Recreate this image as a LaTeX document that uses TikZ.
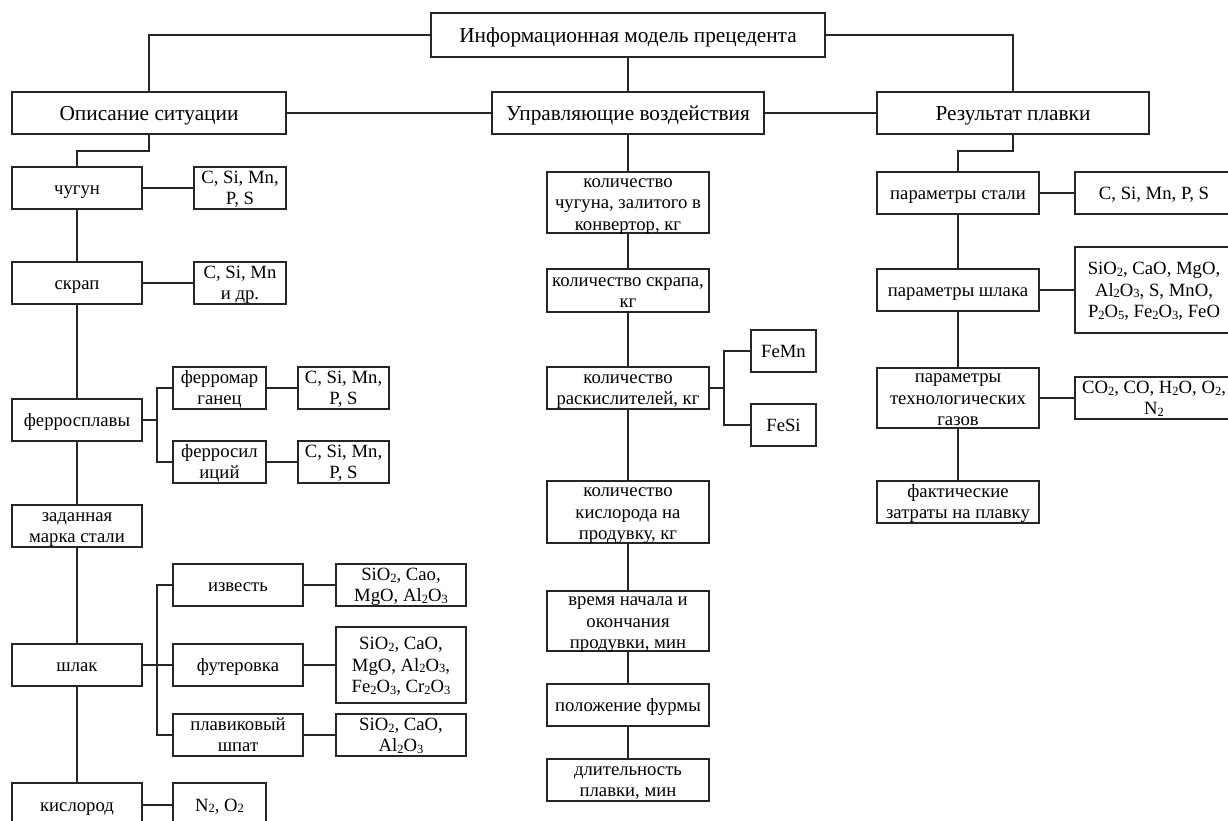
\documentclass[tikz,border=0pt]{standalone}
\usepackage{fontspec}
\setmainfont{Liberation Serif}
\newcommand\sub[1]{\raisebox{-1.6pt}{\fontsize{12.5}{12.5}\selectfont #1}}
\newcommand\bx[7][]{\node[box,#1, minimum width={(#5-#3)*1pt}, minimum height={(#6-#4)*1pt}] (#2) at ({(#3+#5)/2},{(#4+#6)/2}) {\rule{0pt}{0.89em}#7\rule[-0.22em]{0pt}{0.22em}};}
\begin{document}
\begin{tikzpicture}[x=1pt,y=-1pt,
  box/.style={draw=black!85, line width=1.2pt, inner xsep=0pt, inner ysep=-5pt, outer sep=0pt, align=center,
    font=\fontsize{18.7}{21.3}\selectfont},
  hd/.style={font=\fontsize{21.3}{24.5}\selectfont},
  ln/.style={draw=black!85, line width=1.2pt}]
\useasboundingbox (0,0) rectangle (1228,821);
\clip (0,0) rectangle (1228,821);
% top level
\bx[hd]{top}{431}{13}{825}{57}{Информационная модель прецедента}
\bx[hd]{op}{12}{92}{286}{134}{Описание ситуации}
\bx[hd]{upr}{492}{92}{764}{134}{Управляющие воздействия}
\bx[hd]{res}{877}{92}{1149}{134}{Результат плавки}
% left column
\bx{chug}{12}{167}{142}{209}{чугун}
\bx{chugC}{194}{167}{286}{209}{C, Si, Mn,\\ P, S}
\bx{skr}{12}{262}{142}{304}{скрап}
\bx{skrC}{194}{262}{286}{304}{C, Si, Mn\\ и др.}
\bx{ferro}{12}{399}{142}{441}{ферросплавы}
\bx{fm}{173}{367}{266}{409}{ферромар\\ ганец}
\bx{fmC}{298}{367}{389}{409}{C, Si, Mn,\\ P, S}
\bx{fs}{173}{441}{266}{483}{ферросил\\ иций}
\bx{fsC}{298}{441}{389}{483}{C, Si, Mn,\\ P, S}
\bx{mark}{12}{505}{142}{547}{заданная\\ марка стали}
\bx{shl}{12}{644}{142}{686}{шлак}
\bx{izv}{173}{564}{303}{606}{известь}
\bx{izvC}{336}{564}{466}{606}{SiO\sub2, Cao,\\ MgO, Al\sub2O\sub3}
\bx{fut}{173}{644}{303}{686}{футеровка}
\bx{futC}{336}{627}{466}{703}{SiO\sub2, CaO,\\ MgO, Al\sub2O\sub3,\\ Fe\sub2O\sub3, Cr\sub2O\sub3}
\bx{plav}{173}{714}{303}{756}{плавиковый\\ шпат}
\bx{plavC}{336}{714}{466}{756}{SiO\sub2, CaO,\\ Al\sub2O\sub3}
\bx{kis}{12}{783}{142}{827}{кислород}
\bx{kisC}{173}{783}{266}{827}{N\sub2, O\sub2}
% middle column
\bx{m1}{547}{172}{709}{233}{количество\\ чугуна, залитого в\\ конвертор, кг}
\bx{m2}{547}{269}{709}{312}{количество скрапа,\\ кг}
\bx{m3}{547}{367}{709}{409}{количество\\ раскислителей, кг}
\bx{femn}{751}{330}{816}{372}{FeMn}
\bx{fesi}{751}{404}{816}{446}{FeSi}
\bx{m4}{547}{481}{709}{543}{количество\\ кислорода на\\ продувку, кг}
\bx{m5}{547}{591}{709}{651}{время начала и\\ окончания\\ продувки, мин}
\bx{m6}{547}{684}{709}{726}{положение фурмы}
\bx{m7}{547}{759}{709}{801}{длительность\\ плавки, мин}
% right column
\bx{pst}{877}{172}{1039}{214}{параметры стали}
\bx{pstC}{1075}{172}{1233}{214}{C, Si, Mn, P, S}
\bx{psh}{877}{269}{1039}{311}{параметры шлака}
\bx{pshC}{1075}{247}{1233}{333}{SiO\sub2, CaO, MgO,\\ Al\sub2O\sub3, S, MnO,\\ P\sub2O\sub5, Fe\sub2O\sub3, FeO}
\bx{pg}{877}{368}{1039}{428}{параметры\\ технологических\\ газов}
\bx{pgC}{1075}{377}{1233}{419}{CO\sub2, CO, H\sub2O, O\sub2,\\ N\sub2}
\bx{pf}{877}{481}{1039}{523}{фактические\\ затраты на плавку}
% connectors
\draw[ln] (top.west) -| (op.north);
\draw[ln] (top.east) -| (res.north);
\draw[ln] (top.south) -- (upr.north);
\draw[ln] (op.east) -- (upr.west);
\draw[ln] (upr.east) -- (res.west);
\draw[ln] (op.south) -- ++(0,17) -| (chug.north);
\draw[ln] (chug.east) -- (chugC.west);
\draw[ln] (chug.south) -- (skr.north);
\draw[ln] (skr.east) -- (skrC.west);
\draw[ln] (skr.south) -- (ferro.north);
\draw[ln] (ferro.east) -- ++(15,0);
\draw[ln] (fm.west) -- ++(-16,0) |- (fs.west);
\draw[ln] (fm.east) -- (fmC.west);
\draw[ln] (fs.east) -- (fsC.west);
\draw[ln] (ferro.south) -- (mark.north);
\draw[ln] (mark.south) -- (shl.north);
\draw[ln] (shl.east) -- (fut.west);
\draw[ln] (izv.west) -- ++(-16,0) |- (plav.west);
\draw[ln] (izv.east) -- (izvC.west);
\draw[ln] (fut.east) -- (futC.west);
\draw[ln] (plav.east) -- (plavC.west);
\draw[ln] (shl.south) -- (kis.north);
\draw[ln] (kis.east) -- (kisC.west);
\draw[ln] (upr.south) -- (m1.north);
\draw[ln] (m1.south) -- (m2.north);
\draw[ln] (m2.south) -- (m3.north);
\draw[ln] (m3.east) -- ++(15,0);
\draw[ln] (femn.west) -- ++(-27,0) |- (fesi.west);
\draw[ln] (m3.south) -- (m4.north);
\draw[ln] (m4.south) -- (m5.north);
\draw[ln] (m5.south) -- (m6.north);
\draw[ln] (m6.south) -- (m7.north);
\draw[ln] (res.south) -- ++(0,17) -| (pst.north);
\draw[ln] (pst.east) -- (pstC.west);
\draw[ln] (pst.south) -- (psh.north);
\draw[ln] (psh.east) -- (pshC.west);
\draw[ln] (psh.south) -- (pg.north);
\draw[ln] (pg.east) -- (pgC.west);
\draw[ln] (pg.south) -- (pf.north);
\end{tikzpicture}
\end{document}
